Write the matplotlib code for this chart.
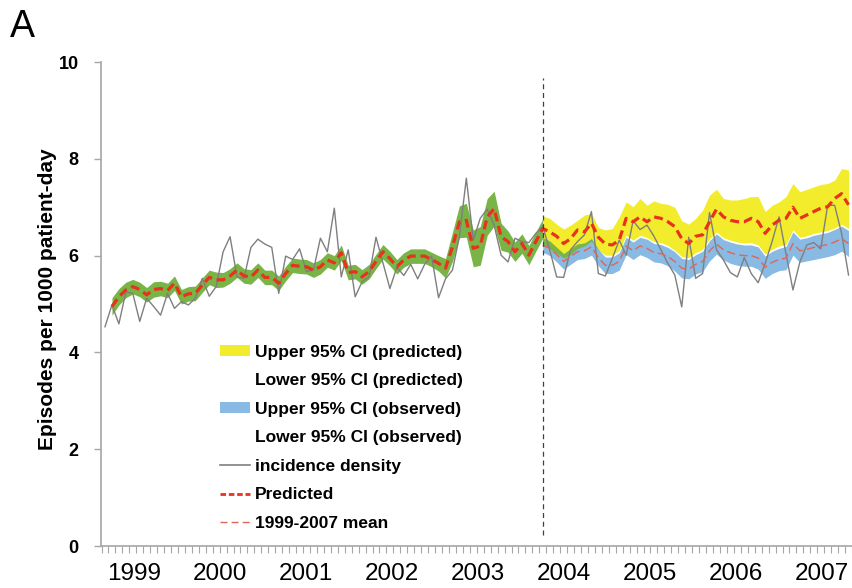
import numpy as np
import matplotlib.pyplot as plt
from matplotlib.patches import Patch
from matplotlib.lines import Line2D

# monthly incidence density (episodes per 1000 patient-day)
incidence = [4.53, 4.98, 4.59, 5.25, 5.22, 4.64, 5.12, 4.95, 4.77, 5.22,
             4.91, 5.05, 4.98, 5.12, 5.53, 5.16, 5.36, 6.08, 6.39, 5.56,
             5.53, 6.17, 6.34, 6.24, 6.17, 5.22, 5.99, 5.92, 6.14, 5.67,
             5.70, 6.36, 6.08, 6.98, 5.56, 6.12, 5.15, 5.46, 5.56, 6.38,
             5.85, 5.32, 5.76, 5.59, 5.82, 5.52, 5.82, 5.99, 5.13, 5.52,
             5.70, 6.39, 7.60, 6.32, 6.77, 6.96, 6.63, 6.01, 5.87, 6.36,
             6.29, 6.27, 6.46, 6.60, 6.12, 5.56, 5.55, 6.12, 6.29, 6.43,
             6.91, 5.63, 5.58, 5.94, 6.32, 6.01, 6.72, 6.54, 6.63, 6.40,
             6.12, 5.84, 5.60, 4.94, 6.38, 5.53, 5.63, 6.89, 6.12, 5.91,
             5.65, 5.56, 5.96, 5.63, 5.44, 5.84, 6.29, 6.80, 6.04, 5.29,
             5.87, 6.22, 6.27, 6.14, 7.04, 7.04, 6.46, 5.60]

# predicted series (starts one month after the incidence series)
predicted = [4.95, 5.15, 5.29, 5.36, 5.30, 5.19, 5.30, 5.32, 5.28, 5.43,
             5.15, 5.21, 5.22, 5.39, 5.55, 5.50, 5.50, 5.58, 5.70, 5.58,
             5.56, 5.70, 5.55, 5.55, 5.43, 5.63, 5.80, 5.78, 5.77, 5.70,
             5.77, 5.91, 5.85, 6.06, 5.65, 5.67, 5.56, 5.67, 5.88, 6.08,
             5.94, 5.77, 5.91, 5.99, 5.99, 5.99, 5.92, 5.84, 5.74, 6.18,
             6.70, 6.73, 6.15, 6.20, 6.80, 6.97, 6.39, 6.29, 6.08, 6.25,
             6.01, 6.29,
             6.56, 6.49, 6.40, 6.25, 6.35, 6.53, 6.49, 6.67, 6.38, 6.24,
             6.22, 6.32, 6.77, 6.70, 6.80, 6.70, 6.80, 6.77, 6.70, 6.60,
             6.35, 6.25, 6.40, 6.43, 6.70, 6.96, 6.80, 6.73, 6.70, 6.70,
             6.77, 6.70, 6.46, 6.63, 6.73, 6.77, 7.00, 6.77, 6.84, 6.91,
             6.98, 7.01, 7.18, 7.28, 7.05]

# half width of the 95% CI before the intervention (same for both models)
pre_ci_hw = [0.18, 0.17, 0.16, 0.15, 0.15, 0.15, 0.16, 0.15, 0.15, 0.15,
             0.15, 0.15, 0.15, 0.15, 0.15, 0.16, 0.15, 0.15, 0.15, 0.15,
             0.15, 0.15, 0.15, 0.15, 0.15, 0.15, 0.15, 0.15, 0.15, 0.15,
             0.15, 0.15, 0.15, 0.16, 0.15, 0.15, 0.15, 0.15, 0.15, 0.15,
             0.15, 0.15, 0.15, 0.15, 0.15, 0.15, 0.15, 0.16, 0.20, 0.30,
             0.33, 0.35, 0.38, 0.40, 0.38, 0.36, 0.28, 0.22, 0.20, 0.20,
             0.20, 0.20, 0.20]

# after the intervention
pred_upper = [6.82, 6.77, 6.65, 6.55, 6.63, 6.73, 6.84, 6.87, 6.58, 6.53,
              6.56, 6.80, 7.11, 7.01, 7.18, 7.04, 7.13, 7.08, 7.06, 7.00,
              6.72, 6.65, 6.77, 6.94, 7.25, 7.37, 7.18, 7.15, 7.15, 7.18,
              7.22, 7.22, 6.91, 7.04, 7.11, 7.22, 7.49, 7.32, 7.37, 7.42,
              7.47, 7.49, 7.56, 7.80, 7.77]
pred_lower = [6.21, 6.14, 6.05, 5.95, 6.02, 6.15, 6.20, 6.30, 6.12, 6.01,
              6.01, 6.10, 6.42, 6.32, 6.42, 6.37, 6.29, 6.27, 6.21, 6.11,
              5.98, 5.96, 6.06, 6.13, 6.35, 6.49, 6.37, 6.32, 6.28, 6.26,
              6.27, 6.22, 6.03, 6.13, 6.20, 6.23, 6.53, 6.38, 6.41, 6.46,
              6.49, 6.52, 6.57, 6.65, 6.56]
obs_mean = [6.22, 6.15, 6.02, 5.88, 5.98, 6.08, 6.10, 6.18, 5.96, 5.80,
            5.80, 5.88, 6.20, 6.10, 6.20, 6.15, 6.06, 6.04, 5.98, 5.88,
            5.74, 5.72, 5.82, 5.88, 6.10, 6.24, 6.12, 6.06, 6.02, 6.00,
            6.00, 5.95, 5.76, 5.86, 5.92, 5.95, 6.25, 6.10, 6.13, 6.17,
            6.20, 6.23, 6.28, 6.35, 6.25]
obs_ci_hw = [0.15, 0.15, 0.15, 0.16, 0.16, 0.16, 0.16, 0.17, 0.17, 0.17,
             0.17, 0.18, 0.18, 0.18, 0.18, 0.19, 0.19, 0.19, 0.19, 0.20,
             0.20, 0.20, 0.20, 0.21, 0.21, 0.21, 0.21, 0.22, 0.22, 0.22,
             0.22, 0.23, 0.23, 0.23, 0.23, 0.24, 0.24, 0.24, 0.24, 0.25,
             0.25, 0.25, 0.26, 0.26, 0.27]

years = ['1999', '2000', '2001', '2002', '2003', '2004', '2005', '2006', '2007']
intervention = 63  # month index of the dashed line

yellow = '#f2ec2c'
blue = '#88bae3'
green = '#79b447'
red = '#e8321c'
salmon = '#e0645a'
grey = '#7f7f7f'
axcol = '#a6a6a6'

x = np.arange(len(incidence))
px = np.arange(1, len(predicted) + 1)
pred = np.array(predicted)
pre_x = np.arange(1, intervention + 1)
pre_p = pred[:intervention]
pre_hw = np.array(pre_ci_hw)
post_x = np.arange(intervention, intervention + len(pred_upper))
pu = np.array(pred_upper)
pl = np.array(pred_lower)
om = np.array(obs_mean)
oh = np.array(obs_ci_hw)

fig = plt.figure(figsize=(8.52, 5.88), dpi=100)
ax = fig.add_axes([0.1185, 0.0714, 0.8815, 0.8231])

# CI bands
ax.fill_between(pre_x, pre_p - pre_hw, pre_p + pre_hw, color=green, lw=0)
ax.fill_between(post_x, pl, pu, color=yellow, lw=0)
ax.fill_between(post_x, om - oh, om + oh, color=blue, lw=0)
lo = np.maximum(pl, om - oh)
hi = np.minimum(pu, om + oh)
ax.fill_between(post_x, lo, hi, where=lo < hi, interpolate=True, color=green, lw=0)

ax.plot(x, incidence, color=grey, lw=1.0, zorder=3)
ax.plot(post_x, om, color=salmon, lw=1.0, dashes=(6, 3), zorder=4)
ax.plot(px, pred, color=red, lw=2.3, dashes=(2.8, 1.5), zorder=5)
ax.axvline(intervention, ymin=0.023, ymax=0.967, color='#404040', lw=0.9,
           dashes=(4, 3), zorder=6)

ax.set_xlim(-0.58, 107.45)
ax.set_ylim(0, 10)
ax.set_yticks([0, 2, 4, 6, 8, 10])
ax.tick_params(axis='y', length=5, width=1, color=axcol, pad=11)
for t in ax.get_yticklabels():
    t.set_fontfamily('Liberation Sans')
    t.set_fontweight('bold')
    t.set_fontsize(13)

ypos = [4.2 + 12.375 * k for k in range(len(years))]
ax.set_xticks(ypos)
ax.set_xticklabels(years, family=['Liberation Sans Narrow', 'Liberation Sans'],
                   fontsize=17.5)
ax.set_xticks(np.arange(-0.5, 108, 1), minor=True)
ax.tick_params(axis='x', which='major', length=0, pad=12)
ax.tick_params(axis='x', which='minor', length=5, width=0.8, color=axcol)

for s in ['top', 'right']:
    ax.spines[s].set_visible(False)
for s in ['left', 'bottom']:
    ax.spines[s].set_color(axcol)
    ax.spines[s].set_linewidth(1.2)

ax.set_ylabel('Episodes per 1000 patient-day', family='Liberation Sans',
              fontweight='bold', fontsize=15)
ax.yaxis.set_label_coords(-0.058, 0.51)

handles = [Patch(facecolor=yellow, edgecolor='none'),
           Patch(facecolor='none', edgecolor='none'),
           Patch(facecolor=blue, edgecolor='none'),
           Patch(facecolor='none', edgecolor='none'),
           Line2D([], [], color=grey, lw=1.2),
           Line2D([], [], color=red, lw=2.0, dashes=(2, 1)),
           Line2D([], [], color=salmon, lw=1.0, dashes=(5, 3))]
labels = ['Upper 95% CI (predicted)', 'Lower 95% CI (predicted)',
          'Upper 95% CI (observed)', 'Lower 95% CI (observed)',
          'incidence density', 'Predicted', '1999-2007 mean']
ax.legend(handles, labels, loc='upper left', bbox_to_anchor=(0.158, 0.416),
          frameon=False, borderpad=0, borderaxespad=0, handlelength=1.75,
          handleheight=0.55, handletextpad=0.3, labelspacing=0.78,
          prop={'family': 'Liberation Sans', 'weight': 'bold', 'size': 12.5})

fig.text(0.012, 0.954, 'A', family='Liberation Sans', fontsize=27, va='center')

fig.savefig('out.png', dpi=100)
